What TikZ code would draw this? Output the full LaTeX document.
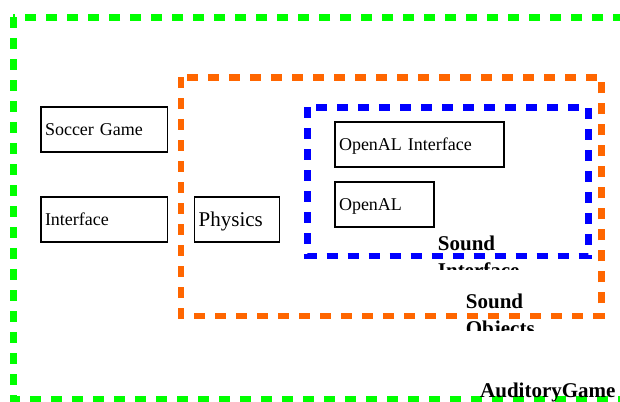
\documentclass[tikz,border=0pt]{standalone}
\usepackage{fontspec}
\setmainfont{Liberation Serif}
\usetikzlibrary{positioning}
\definecolor{gamegreen}{HTML}{00FF00}
\definecolor{soundorange}{HTML}{FF6600}
\tikzset{
        box/.style={draw, line width=1.5pt, text width=#1, minimum height=45pt,
                    inner xsep=4pt, outer sep=0pt, align=left, text depth=0pt,
                    font=\fontsize{18}{21}\selectfont},
        group/.style={draw=#1, line width=6.5pt, dash pattern=on 11pt off 10pt},
        grouplabel/.style={font=\bfseries\fontsize{21}{27}\selectfont,
                    align=left, anchor=base west, inner sep=0pt}
        }

\begin{document}
\begin{tikzpicture}[x=1pt,y=-1pt]
        \useasboundingbox (0,0) rectangle (620,401);
        % groups
        \draw[group=gamegreen, line width=7pt] (13,17.3) rectangle (640,399.3);
        \draw[group=soundorange] (181,77.3) rectangle (601.7,316);
        \draw[group=blue] (307.3,107.3) rectangle (588.3,256);
        % modules
        \node[box=118.3pt, anchor=north west] (soccer) at (41,107) {Soccer Game};
        \node[box=118.3pt, below=45pt of soccer] (iface) {Interface};
        \node[box=76.6pt, right=27.4pt of iface, font=\fontsize{21}{24}\selectfont] (physics) {Physics};
        \node[box=161pt, anchor=north west] (oaliface) at (335,122) {OpenAL Interface};
        \node[box=91pt, below=15pt of oaliface.south west, anchor=north west] (openal) {OpenAL};
        % group names (base is the last line)
        \begin{scope}
                \clip (0,0) rectangle (620,269);
                \node[grouplabel] (sndiface) at (437.7,277) {Sound\\Interface};
        \end{scope}
        \begin{scope}
                \clip (0,0) rectangle (620,330);
                \node[grouplabel] (sndobj) at (465.7,335) {Sound\\Objects};
        \end{scope}
        \node[grouplabel] (game) at (480,397) {AuditoryGame};
\end{tikzpicture}
\end{document}
